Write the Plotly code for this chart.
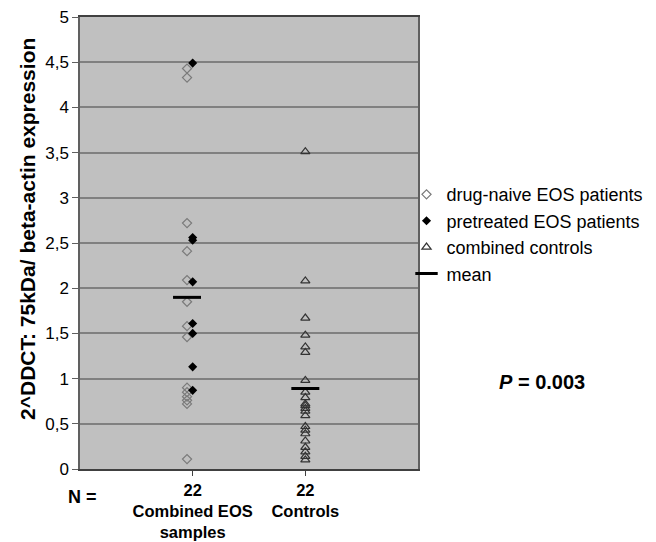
import plotly.graph_objects as go

# Data
naive_eos = [4.43, 4.33, 2.72, 2.41, 2.09, 1.85, 1.58, 1.46, 0.90, 0.85, 0.80, 0.76, 0.72, 0.11]
pretreated_eos = [4.49, 2.56, 2.53, 2.07, 1.61, 1.50, 1.13, 0.87]
controls = [3.51, 2.08, 1.67, 1.48, 1.35, 1.29, 0.98, 0.85, 0.79, 0.72, 0.70, 0.67, 0.64,
            0.59, 0.47, 0.43, 0.39, 0.31, 0.24, 0.19, 0.14, 0.10]

group_pos = [1, 2]
group_labels = ["22<br>Combined EOS<br>samples", "22<br>Controls"]
y_ticks = [0, 0.5, 1, 1.5, 2, 2.5, 3, 3.5, 4, 4.5, 5]
y_ticktext = ["0", "0,5", "1", "1,5", "2", "2,5", "3", "3,5", "4", "4,5", "5"]

naive_offset = -0.05
eos_all = naive_eos + pretreated_eos
mean_eos = sum(eos_all) / len(eos_all)
mean_ctrl = sum(controls) / len(controls)

FONT = "Liberation Sans, Arial, sans-serif"

fig = go.Figure()
fig.add_trace(go.Scatter(
    x=[group_pos[0] + naive_offset] * len(naive_eos), y=naive_eos,
    mode="markers", name="drug-naive EOS patients",
    marker=dict(symbol="diamond-open", size=7, color="#7a7a7a", line=dict(width=1.2)),
))
fig.add_trace(go.Scatter(
    x=[group_pos[0]] * len(pretreated_eos), y=pretreated_eos,
    mode="markers", name="pretreated EOS patients",
    marker=dict(symbol="diamond", size=7, color="black"),
))
fig.add_trace(go.Scatter(
    x=[group_pos[1]] * len(controls), y=controls,
    mode="markers", name="combined controls",
    marker=dict(symbol="triangle-up-open", size=8, color="#333333", line=dict(width=1.2)),
))
fig.add_trace(go.Scatter(
    x=[group_pos[0] + naive_offset, group_pos[1]], y=[mean_eos, mean_ctrl],
    mode="markers", name="mean",
    marker=dict(symbol="line-ew", size=20, color="black", line=dict(width=3, color="black")),
))

fig.update_layout(
    width=656, height=542,
    margin=dict(l=72, r=246, t=9, b=81, autoexpand=False),
    paper_bgcolor="white", plot_bgcolor="#c0c0c0",
    font=dict(family=FONT, size=17, color="black"),
    showlegend=True,
    legend=dict(x=0.966, y=0.648, xanchor="left", yanchor="top",
                font=dict(size=18), bgcolor="rgba(0,0,0,0)", itemwidth=30,
                tracegroupgap=0),
    xaxis=dict(range=[0, 3], tickvals=group_pos, automargin=False,
               ticktext=["<b>" + t.replace("<br>", "</b><br><b>") + "</b>" for t in group_labels],
               ticks="outside", ticklen=5, tickcolor="#404040",
               showgrid=False, zeroline=False, ticklabeloverflow="allow",
               showline=True, linecolor="#404040", linewidth=1.5, mirror=True,
               tickfont=dict(size=16.5)),
    yaxis=dict(range=[0, 5], tickvals=y_ticks, ticktext=y_ticktext, automargin=False,
               ticks="outside", ticklen=6, tickcolor="#606060", ticklabeloverflow="allow",
               showgrid=True, gridcolor="#808080", gridwidth=1.7,
               zeroline=False, showline=True, linecolor="#606060", linewidth=1.5, mirror=True,
               tickfont=dict(size=17)),
)

fig.add_annotation(text="<b>2^DDCT: 75kDa/ beta-actin expression</b>", textangle=-90,
                   xref="paper", yref="paper", x=-0.154, y=0.531,
                   xanchor="center", yanchor="middle", showarrow=False, font=dict(size=21))
fig.add_annotation(text="<b>N =</b>", xref="paper", yref="paper", x=0.006, y=-0.062,
                   xanchor="center", yanchor="middle", showarrow=False, font=dict(size=18))
fig.add_annotation(text="<b><i>P</i> = 0.003</b>", xref="paper", yref="paper", x=1.234, y=0.193,
                   xanchor="left", yanchor="middle", showarrow=False, font=dict(size=20))

fig.write_html("out.html")
